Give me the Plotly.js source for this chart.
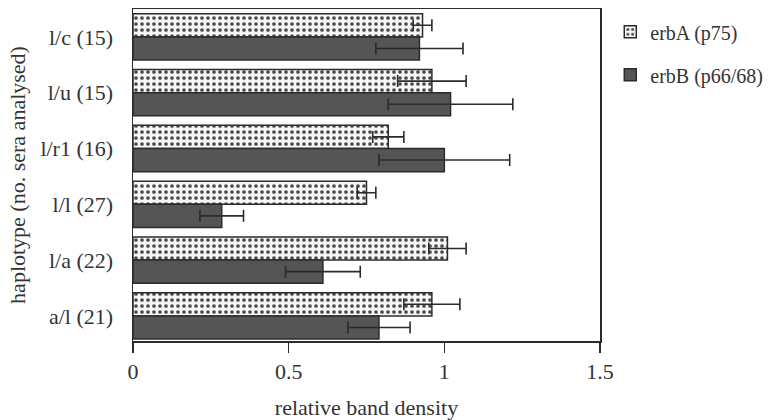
<!DOCTYPE html>
<html>
<head>
<meta charset="utf-8">
<script src="https://cdn.plot.ly/plotly-3.0.1.min.js"></script>
<style>html,body{margin:0;padding:0;background:#fff}#chart{width:775px;height:420px}</style>
</head>
<body>
<div id="chart"></div>
<script>
var haplotypes = ["l/c (15)", "l/u (15)", "l/r1 (16)", "l/l (27)", "l/a (22)", "a/l (21)"];
var erbA = [0.93, 0.96, 0.82, 0.75, 1.01, 0.96];
var erbAErr = [0.03, 0.11, 0.05, 0.03, 0.06, 0.09];
var erbB = [0.92, 1.02, 1.00, 0.285, 0.61, 0.79];
var erbBErr = [0.14, 0.20, 0.21, 0.07, 0.12, 0.10];
var xTicks = [0, 0.5, 1, 1.5];
var xTickText = ["0", "0.5", "1", "1.5"];

var serif = "Liberation Serif, Times New Roman, serif";
var ink = "#2b2b2b";
var fs = 22;

var traceA = {
  type: "bar", orientation: "h", name: "erbA (p75)",
  y: haplotypes, x: erbA, legendgroup: "a",
  marker: {color: "#f6f6f6", line: {color: ink, width: 1.5},
    pattern: {shape: ".", fgcolor: "#4a4a4a", bgcolor: "#f6f6f6", size: 6, solidity: 0.3}},
  error_x: {type: "data", array: erbAErr, visible: true, color: ink, thickness: 1.6, width: 6}
};
var traceB = {
  type: "bar", orientation: "h", name: "erbB (p66/68)",
  y: haplotypes, x: erbB, legendgroup: "b",
  marker: {color: "#555555", line: {color: ink, width: 1.5}},
  error_x: {type: "data", array: erbBErr, visible: true, color: ink, thickness: 1.6, width: 6}
};

var layout = {
  width: 775, height: 420,
  margin: {l: 133, r: 175, t: 9, b: 79, autoexpand: false},
  paper_bgcolor: "#fff", plot_bgcolor: "#fff",
  barmode: "group", bargap: 0.17, bargroupgap: 0,
  font: {family: serif, size: fs, color: "#333"},
  xaxis: {
    range: [0, 1.5], tickvals: xTicks, ticktext: xTickText,
    ticks: "outside", ticklen: 10, tickwidth: 1.5, tickcolor: ink,
    showline: true, linecolor: ink, linewidth: 1.5, mirror: true,
    showgrid: false, zeroline: false,
    tickfont: {family: serif, size: fs, color: "#333"},
    title: {text: "relative band density", font: {family: serif, size: fs, color: "#333"}, standoff: 20}
  },
  yaxis: {
    type: "category", categoryorder: "array", categoryarray: haplotypes,
    range: [5.45, -0.5],
    ticks: "", showline: true, linecolor: ink, linewidth: 1.5, mirror: true,
    showgrid: false, zeroline: false, ticklabelstandoff: 14,
    tickfont: {family: serif, size: fs, color: "#333"},
    title: {text: "haplotype (no. sera analysed)", font: {family: serif, size: fs, color: "#333"}, standoff: 8}
  },
  legend: {
    x: 1.022, xanchor: "left", y: 0.99, yanchor: "top",
    traceorder: "grouped", tracegroupgap: 14,
    font: {family: serif, size: 20, color: "#333"},
    bgcolor: "rgba(0,0,0,0)"
  },
  showlegend: true
};

Plotly.newPlot("chart", [traceA, traceB], layout, {displayModeBar: false, staticPlot: true});
</script>
</body>
</html>
